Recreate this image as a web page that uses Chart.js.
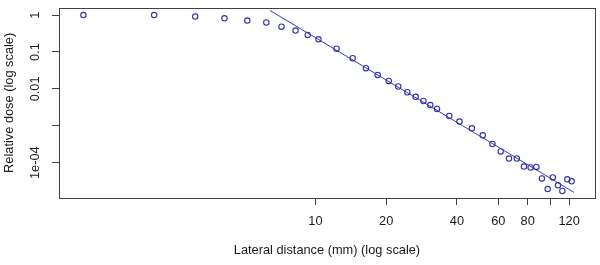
<!DOCTYPE html>
<html><head><meta charset="utf-8">
<script src="https://cdn.jsdelivr.net/npm/chart.js@4/dist/chart.umd.min.js"></script>
<style>html,body{margin:0;padding:0;background:#fff}#wrap{width:600px;height:265px;position:relative}</style>
</head><body><div id="wrap"><canvas id="c"></canvas></div>
<script>
// Data
const distanceMm = [1.03, 2.06, 3.08, 4.1, 5.13, 6.18, 7.17, 8.23, 9.27, 10.3, 12.3, 14.4, 16.4, 18.4, 20.5, 22.5, 24.6, 26.7, 28.8, 30.8, 32.9, 37.1, 41.0, 46.3, 51.5, 56.6, 61.4, 66.6, 71.9, 77.1, 82.3, 87.1, 91.9, 97.3, 102.3, 107.6, 112.3, 117.9, 123];
const relativeDose = [1.0, 1.0, 0.91, 0.82, 0.71, 0.63, 0.485, 0.38, 0.29, 0.22, 0.123, 0.068, 0.0365, 0.0239, 0.0164, 0.0116, 0.0081, 0.0061, 0.0047, 0.00364, 0.00286, 0.00184, 0.0013, 0.000855, 0.000552, 0.000321, 0.000202, 0.000129, 0.00013, 0.0000786, 0.000074, 0.000077, 0.0000375, 0.0000193, 0.0000398, 0.0000243, 0.0000171, 0.0000353, 0.0000313];
const fitDistance = [6.4, 125.6];
const fitDose = [1.34, 0.0000158];
const xTickValues = [10, 20, 40, 60, 80, 100, 120];
const xTickLabels = ['10', '20', '40', '60', '80', '', '120'];
const yTickValues = [1, 0.1, 0.01, 0.001, 0.0001];
const yTickLabels = ['1', '0.1', '0.01', '', '1e-04'];
const xTitle = 'Lateral distance (mm) (log scale)';
const yTitle = 'Relative dose (log scale)';

const FONT = "'Liberation Sans', Arial, sans-serif";
const FS = 12.8;
const TXT = '#1a1a1a';
const AX = '#404040';

const framePlugin = {
  id: 'frame',
  afterDraw(chart) {
    const { ctx, chartArea: a } = chart;
    ctx.save();
    ctx.strokeStyle = AX;
    ctx.lineWidth = 1;
    ctx.strokeRect(Math.round(a.left) + 0.5, Math.round(a.top) + 0.5,
      Math.round(a.right) - Math.round(a.left), Math.round(a.bottom) - Math.round(a.top));
    ctx.restore();
  }
};

new Chart(document.getElementById('c'), {
  type: 'scatter',
  data: {
    datasets: [
      {
        label: 'measured',
        data: distanceMm.map((d, i) => ({ x: d, y: relativeDose[i] })),
        showLine: false,
        pointStyle: 'circle',
        pointRadius: 2.7,
        pointBorderWidth: 1.1,
        pointBackgroundColor: 'rgba(0,0,0,0)',
        pointBorderColor: '#3030b0'
      },
      {
        label: 'fit',
        data: fitDistance.map((d, i) => ({ x: d, y: fitDose[i] })),
        showLine: true,
        pointRadius: 0,
        borderColor: '#3a3aaa',
        borderWidth: 1,
        fill: false
      }
    ]
  },
  options: {
    responsive: true,
    maintainAspectRatio: false,
    animation: false,
    devicePixelRatio: 1,
    layout: { padding: { top: 1, right: 3, left: 0, bottom: 0 } },
    plugins: { legend: { display: false }, tooltip: { enabled: false } },
    scales: {
      x: {
        type: 'logarithmic',
        bounds: 'data',
        min: 0.811,
        max: 154.5,
        border: { display: false },
        grid: { drawOnChartArea: false, drawTicks: true, tickLength: 7, color: AX, lineWidth: 1 },
        afterBuildTicks: s => { s.ticks = xTickValues.map(v => ({ value: v })); },
        afterFit: s => { s.height = 67; },
        ticks: {
          autoSkip: false,
          maxRotation: 0,
          minRotation: 0,
          padding: 8.5,
          color: TXT,
          font: { family: FONT, size: FS },
          callback: (v, i) => xTickLabels[i]
        },
        title: {
          display: true,
          text: xTitle,
          color: TXT,
          font: { family: FONT, size: FS },
          padding: { top: 0, bottom: 7.2 }
        }
      },
      y: {
        type: 'logarithmic',
        bounds: 'data',
        min: 0.00001104,
        max: 1.589,
        border: { display: false },
        grid: { drawOnChartArea: false, drawTicks: true, tickLength: 7, color: AX, lineWidth: 1 },
        afterBuildTicks: s => { s.ticks = yTickValues.map(v => ({ value: v })); },
        afterFit: s => { s.width = 59; },
        ticks: {
          autoSkip: false,
          minRotation: 90,
          maxRotation: 90,
          crossAlign: 'center',
          padding: 0,
          color: TXT,
          font: { family: FONT, size: FS },
          callback: (v, i) => yTickLabels[i]
        },
        title: {
          display: true,
          text: yTitle,
          color: TXT,
          font: { family: FONT, size: FS },
          padding: { top: 2.2, bottom: 0 }
        }
      }
    }
  },
  plugins: [framePlugin]
});
</script>
</body></html>
